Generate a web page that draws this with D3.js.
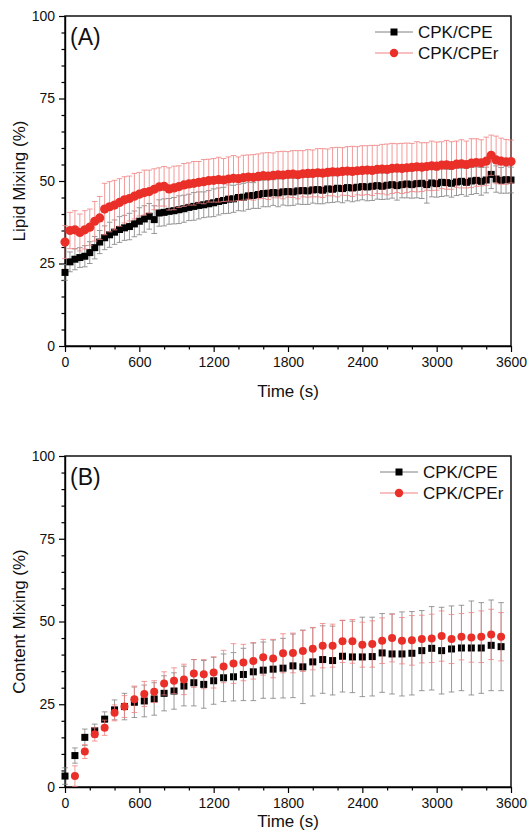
<!DOCTYPE html>
<html>
<head>
<meta charset="utf-8">
<script src="https://cdn.jsdelivr.net/npm/d3@7"></script>
<style>
	body { margin: 0; background: #fff; }
	svg { display: block; font-family: Arial, 'Liberation Sans', sans-serif; }
</style>
</head>
<body>
<svg id="chart" width="527" height="837"></svg>
<script>
// panel A, lipid mixing (%)
let timeA = [0, 40, 80, 120, 160, 200, 240, 280, 320, 360, 400, 440, 480, 520, 560, 600, 640, 680, 720, 760,
	800, 840, 880, 920, 960, 1000, 1040, 1080, 1120, 1160, 1200, 1240, 1280, 1320, 1360, 1400, 1440, 1480, 1520, 1560,
	1600, 1640, 1680, 1720, 1760, 1800, 1840, 1880, 1920, 1960, 2000, 2040, 2080, 2120, 2160, 2200, 2240, 2280, 2320, 2360,
	2400, 2440, 2480, 2520, 2560, 2600, 2640, 2680, 2720, 2760, 2800, 2840, 2880, 2920, 2960, 3000, 3040, 3080, 3120, 3160,
	3200, 3240, 3280, 3320, 3360, 3400, 3440, 3480, 3520, 3560, 3600];
let cpeA = [22.3, 25.5, 26.3, 26.8, 27.2, 28.3, 29.8, 31.5, 32.8, 33.7, 34.5, 35.3, 35.8, 36.2, 37.0, 37.8, 38.5, 39.3, 38.3, 40.3,
	40.5, 40.8, 41.0, 41.3, 41.6, 42.0, 42.3, 42.6, 42.8, 43.1, 43.4, 43.8, 44.1, 44.5, 44.6, 45.0, 45.1, 45.5, 45.6, 45.9,
	46.2, 46.3, 46.5, 46.4, 46.7, 46.8, 46.7, 47.0, 47.1, 47.0, 47.3, 47.4, 47.2, 47.6, 47.5, 47.8, 47.7, 48.0, 47.9, 48.1,
	48.3, 48.2, 48.4, 48.6, 48.4, 48.7, 48.9, 48.6, 48.9, 49.1, 48.9, 49.2, 49.3, 48.9, 49.4, 49.2, 49.6, 49.5, 49.3, 49.7,
	49.9, 49.6, 50.0, 50.2, 49.9, 50.3, 52.0, 50.6, 50.2, 50.4, 50.3];
let cpeErrA = [2.4, 3.0, 3.2, 3.0, 3.2, 3.3, 3.4, 3.5, 3.6, 3.8, 3.7, 3.9, 3.8, 4.0, 3.9, 4.1, 4.0, 3.9, 4.2, 4.0,
	4.1, 3.9, 4.0, 4.2, 4.1, 4.0, 4.2, 4.1, 3.9, 4.0, 4.2, 4.1, 4.0, 4.3, 4.1, 4.0, 4.2, 4.1, 3.9, 4.2,
	4.0, 4.1, 3.9, 4.2, 4.0, 4.3, 4.1, 4.0, 4.2, 4.1, 4.0, 4.3, 4.1, 4.2, 4.0, 4.1, 4.3, 4.0, 4.2, 4.1,
	4.0, 4.2, 4.3, 4.1, 4.0, 4.2, 4.1, 4.4, 4.0, 4.2, 4.1, 4.3, 4.6, 5.6, 4.2, 4.1, 4.3, 4.0, 4.2, 4.1,
	4.0, 4.2, 4.1, 4.0, 4.2, 3.9, 4.3, 4.0, 3.9, 4.1, 3.9];
let cperA = [31.5, 35.0, 35.2, 34.4, 35.2, 36.0, 37.8, 38.8, 41.5, 42.2, 42.7, 43.5, 44.3, 44.7, 45.4, 46.0, 46.5, 46.8, 47.5, 48.2,
	48.4, 47.6, 47.9, 48.3, 48.8, 49.1, 49.3, 49.6, 49.8, 50.1, 50.2, 50.4, 50.3, 50.6, 50.8, 50.7, 51.0, 51.2, 51.1, 51.4,
	51.6, 51.5, 51.7, 51.9, 51.8, 52.0, 52.1, 51.9, 52.2, 52.3, 52.3, 52.5, 52.4, 52.6, 52.8, 52.7, 52.9, 53.0, 52.9, 53.1,
	53.2, 53.3, 53.2, 53.5, 53.6, 53.5, 53.8, 53.9, 53.8, 54.0, 54.1, 54.3, 54.2, 54.4, 54.6, 54.5, 54.8, 54.9, 54.7, 55.1,
	55.2, 55.0, 55.4, 55.6, 55.5, 56.0, 57.8, 56.4, 56.0, 55.8, 55.9];
let cperErrA = [5.0, 5.5, 5.8, 5.6, 5.8, 5.5, 6.0, 6.5, 7.8, 7.6, 7.5, 7.2, 7.0, 6.8, 6.9, 6.6, 6.8, 6.5, 6.2, 5.8,
	6.0, 6.4, 6.6, 6.3, 6.5, 6.4, 6.6, 6.3, 6.7, 6.5, 6.6, 6.8, 6.5, 6.7, 6.9, 6.6, 6.8, 6.7, 6.9, 6.8,
	6.9, 7.1, 6.8, 7.0, 7.2, 6.9, 7.1, 7.3, 7.0, 7.2, 7.1, 7.3, 7.4, 7.1, 7.3, 7.5, 7.2, 7.4, 7.6, 7.3,
	7.5, 7.4, 7.6, 7.3, 7.5, 7.7, 7.6, 7.4, 7.6, 7.5, 7.3, 7.6, 7.4, 7.2, 7.5, 7.3, 7.1, 7.4, 7.2, 7.0,
	7.3, 7.1, 7.4, 7.2, 7.0, 7.3, 6.1, 7.2, 7.0, 6.8, 6.5];

// panel B, content mixing (%)
let timeB = [0, 80, 160, 240, 320, 400, 480, 560, 640, 720, 800, 880, 960, 1040, 1120, 1200, 1280, 1360, 1440, 1520,
	1600, 1680, 1760, 1840, 1920, 2000, 2080, 2160, 2240, 2320, 2400, 2480, 2560, 2640, 2720, 2800, 2880, 2960, 3040, 3120,
	3200, 3280, 3360, 3440, 3520];
let cpeB = [3.3, 9.5, 15.0, 17.0, 20.5, 23.3, 24.3, 25.6, 26.0, 26.6, 28.3, 29.0, 30.5, 31.5, 31.0, 32.1, 33.0, 33.3, 34.0, 34.8,
	35.3, 35.6, 35.9, 36.6, 36.3, 37.8, 38.5, 38.2, 39.5, 39.3, 39.3, 39.4, 40.5, 40.2, 40.2, 40.4, 41.2, 41.9, 41.2, 41.7,
	42.0, 42.0, 42.0, 42.8, 42.4];
let cpeErrB = [2.5, 2.3, 2.5, 2.0, 2.2, 3.0, 4.0, 4.6, 4.8, 4.9, 5.3, 5.5, 6.0, 7.0, 7.2, 7.1, 7.2, 7.3, 7.9, 8.7,
	8.5, 8.8, 9.0, 9.6, 11.1, 10.3, 10.2, 10.4, 10.8, 10.8, 12.0, 11.9, 11.9, 12.1, 12.7, 12.6, 12.1, 12.6, 13.1, 13.0,
	12.9, 14.2, 13.7, 13.7, 13.3];
let cperB = [null, 3.3, 10.7, 15.9, 17.9, 22.4, 24.3, 26.5, 28.1, 28.8, 31.3, 32.1, 32.5, 34.3, 34.1, 34.6, 36.4, 37.3, 37.6, 38.1,
	39.2, 38.8, 40.4, 40.5, 41.1, 41.8, 42.7, 42.7, 44.0, 44.0, 43.0, 43.2, 44.2, 45.0, 44.2, 44.3, 44.7, 44.9, 45.6, 44.7,
	45.4, 45.2, 45.4, 46.1, 45.4];
let cperErrB = [null, 3.1, 2.1, 2.0, 2.3, 2.4, 3.3, 4.0, 3.8, 3.3, 3.5, 3.9, 4.6, 4.2, 4.4, 4.7, 4.9, 6.0, 5.5, 5.5,
	5.4, 5.8, 5.9, 6.0, 6.2, 6.4, 6.7, 6.5, 6.4, 6.6, 6.8, 7.0, 6.9, 7.2, 7.0, 7.5, 7.2, 7.3, 7.6, 7.4,
	7.0, 7.5, 7.8, 7.6, 7.3];

let seriesNames = ['CPK/CPE', 'CPK/CPEr'];
let xMajor = [0, 600, 1200, 1800, 2400, 3000, 3600];
let xMinor = [200, 400, 800, 1000, 1400, 1600, 2000, 2200, 2600, 2800, 3200, 3400];
let yMajor = [0, 25, 50, 75, 100];
let yMinor = [5, 10, 15, 20, 30, 35, 40, 45, 55, 60, 65, 70, 80, 85, 90, 95];

let svg = d3.select('#chart');
let left = 65;
let right = 511;

function drawPanel(p) {
	let x = d3.scaleLinear().domain([0, 3600]).range([left, right]);
	let y = d3.scaleLinear().domain([0, 100]).range([p.bottom, p.top]);
	let g = svg.append('g');

	// axes
	let xAxis = g.append('g')
		.attr('transform', 'translate(0,' + p.bottom + ')')
		.call(d3.axisBottom(x).tickValues(xMajor).tickFormat(d3.format('d'))
			.tickSize(6).tickSizeOuter(0).tickPadding(5));
	g.append('g')
		.attr('transform', 'translate(0,' + p.bottom + ')')
		.call(d3.axisBottom(x).tickValues(xMinor).tickSize(3.5).tickFormat(''))
		.call(a => a.select('.domain').remove());
	let yAxis = g.append('g')
		.attr('transform', 'translate(' + left + ',0)')
		.call(d3.axisLeft(y).tickValues(yMajor).tickFormat(d3.format('d'))
			.tickSize(6).tickSizeOuter(0).tickPadding(4));
	g.append('g')
		.attr('transform', 'translate(' + left + ',0)')
		.call(d3.axisLeft(y).tickValues(yMinor).tickSize(3.5).tickFormat(''))
		.call(a => a.select('.domain').remove());

	g.selectAll('.tick line').attr('stroke', '#000').attr('stroke-width', 1.2);
	g.selectAll('.domain').attr('stroke-width', 1.4);
	[xAxis, yAxis].forEach(a => a
		.attr('font-family', null)
		.attr('font-size', 14)
		.selectAll('text').attr('fill', '#111'));

	g.append('rect')
		.attr('x', left)
		.attr('y', p.top)
		.attr('width', right - left)
		.attr('height', p.bottom - p.top)
		.attr('fill', 'none')
		.attr('stroke', '#000')
		.attr('stroke-width', 1.4);

	// series: error bars then markers
	let series = [
		{ vals: p.black, errs: p.blackErr, errColor: '#808080', color: '#000', shape: 'square' },
		{ vals: p.red, errs: p.redErr, errColor: '#f08080', color: '#ea2f29', shape: 'circle' }
	];

	series.forEach(s => {
		let data = p.time
			.map((t, i) => ({ t: t, v: s.vals[i], e: s.errs[i] }))
			.filter(d => d.v != null);

		let cap = 2.8;
		g.append('g')
			.selectAll('path')
			.data(data)
			.enter()
			.append('path')
			.attr('d', d => {
				let cx = x(d.t);
				let y1 = y(d.v + d.e);
				let y0 = y(Math.max(0, d.v - d.e));
				return 'M' + cx + ',' + y0 + 'V' + y1 +
					'M' + (cx - cap) + ',' + y1 + 'H' + (cx + cap) +
					'M' + (cx - cap) + ',' + y0 + 'H' + (cx + cap);
			})
			.attr('fill', 'none')
			.attr('stroke', s.errColor)
			.attr('stroke-width', 0.8);

		if (s.shape == 'square') {
			g.append('g')
				.selectAll('rect')
				.data(data)
				.enter()
				.append('rect')
				.attr('x', d => x(d.t) - p.sq / 2)
				.attr('y', d => y(d.v) - p.sq / 2)
				.attr('width', p.sq)
				.attr('height', p.sq)
				.attr('fill', s.color);
		} else {
			g.append('g')
				.selectAll('circle')
				.data(data)
				.enter()
				.append('circle')
				.attr('cx', d => x(d.t))
				.attr('cy', d => y(d.v))
				.attr('r', p.r)
				.attr('fill', s.color);
		}
	});

	// panel label
	g.append('text')
		.attr('x', left + 5)
		.attr('y', p.top + 29)
		.attr('font-size', 23)
		.attr('fill', '#111')
		.text(p.label);

	// legend
	series.forEach((s, i) => {
		let ly = p.top + 16 + i * 21;
		let lg = g.append('g');
		lg.append('line')
			.attr('x1', p.legendX)
			.attr('x2', p.legendX + 38)
			.attr('y1', ly)
			.attr('y2', ly)
			.attr('stroke', s.errColor)
			.attr('stroke-width', 1);
		if (s.shape == 'square') {
			lg.append('rect')
				.attr('x', p.legendX + 19 - 3.5)
				.attr('y', ly - 3.5)
				.attr('width', 7)
				.attr('height', 7)
				.attr('fill', s.color);
		} else {
			lg.append('circle')
				.attr('cx', p.legendX + 19)
				.attr('cy', ly)
				.attr('r', 4.2)
				.attr('fill', s.color);
		}
		lg.append('text')
			.attr('x', p.legendX + 43)
			.attr('y', ly + 6)
			.attr('font-size', 17)
			.attr('fill', '#111')
			.text(seriesNames[i]);
	});

	// axis titles
	g.append('text')
		.attr('x', (left + right) / 2)
		.attr('y', p.bottom + p.titleGap)
		.attr('text-anchor', 'middle')
		.attr('font-size', 17)
		.attr('fill', '#111')
		.text('Time (s)');

	g.append('text')
		.attr('transform', 'translate(25,' + (p.top + p.bottom) / 2 + ') rotate(-90)')
		.attr('text-anchor', 'middle')
		.attr('font-size', 17)
		.attr('fill', '#111')
		.text(p.yTitle);
}

drawPanel({
	top: 16, bottom: 346, label: '(A)', yTitle: 'Lipid Mixing (%)', legendX: 375, titleGap: 51,
	time: timeA, black: cpeA, blackErr: cpeErrA, red: cperA, redErr: cperErrA, sq: 7, r: 4.6
});

drawPanel({
	top: 456, bottom: 787, label: '(B)', yTitle: 'Content Mixing (%)', legendX: 380, titleGap: 40,
	time: timeB, black: cpeB, blackErr: cpeErrB, red: cperB, redErr: cperErrB, sq: 7, r: 4
});
</script>
</body>
</html>
